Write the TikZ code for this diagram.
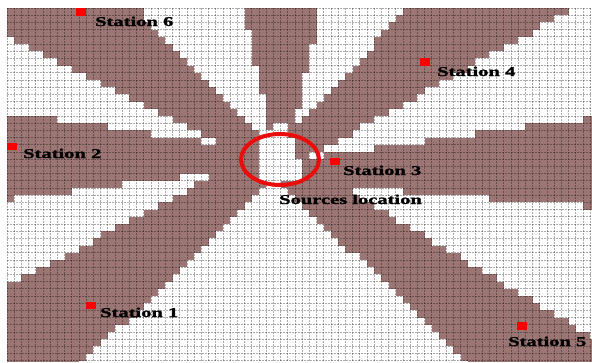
\documentclass[tikz,border=0pt]{standalone}
\usepackage{fontspec}
\setmainfont{Liberation Serif}
\newfontfamily\lblfont[FakeBold=1.2]{Liberation Serif Bold}
\usepackage{graphicx}
\definecolor{cellbrown}{RGB}{156,118,116}
\definecolor{mkred}{RGB}{250,0,0}
\definecolor{ringred}{RGB}{235,12,12}
\def\gx{7}\def\gy{8}\def\cw{7.2}\def\ch{7.2}
% white wedge with one lower bound y>=aL+bL*x and one upper bound y<=aU+bU*x
\newcommand\wedgeLU[4]{%
  \foreach \c in {0,...,81}{%
    \pgfmathsetmacro\xc{\gx+(\c+0.5)*\cw}%
    \pgfmathsetmacro\lo{max(#1+(#2)*\xc,\gy)}%
    \pgfmathsetmacro\hi{min(#3+(#4)*\xc,400)}%
    \pgfmathtruncatemacro\ra{ceil((\lo-\gy)/\ch-0.5)}%
    \pgfmathtruncatemacro\rb{floor((\hi-\gy)/\ch-0.5)}%
    \ifnum\rb<\ra\else
      \fill[white] (\gx+\c*\cw,\gy+\ra*\ch) rectangle (\gx+\c*\cw+\cw,\gy+\rb*\ch+\ch);
    \fi
  }}
% white wedge with two lower bounds
\newcommand\wedgeLL[4]{%
  \foreach \c in {0,...,81}{%
    \pgfmathsetmacro\xc{\gx+(\c+0.5)*\cw}%
    \pgfmathsetmacro\lo{max(max(#1+(#2)*\xc,#3+(#4)*\xc),\gy)}%
    \pgfmathtruncatemacro\ra{ceil((\lo-\gy)/\ch-0.5)}%
    \pgfmathtruncatemacro\rb{60}%
    \ifnum\rb<\ra\else
      \fill[white] (\gx+\c*\cw,\gy+\ra*\ch) rectangle (\gx+\c*\cw+\cw,\gy+\rb*\ch+\ch);
    \fi
  }}
% white block of cells: columns c1..c2, rows r1..r2
\newcommand\cellblock[4]{\fill[white] (\gx+#1*\cw,\gy+#3*\ch) rectangle (\gx+#2*\cw+\cw,\gy+#4*\ch+\ch);}
\tikzset{
  gridline/.style={black, opacity=0.33, line width=0.75pt, dash pattern=on 2pt off 1pt},
  marker/.style={fill=mkred, inner sep=0pt, minimum width=10pt, minimum height=7.5pt},
  lbl/.style={anchor=base west, inner sep=0pt, font=\lblfont\fontsize{13.5}{14}\selectfont},
}
\newcommand\wide[1]{\scalebox{1.52}[1]{#1}}
\begin{document}
\begin{tikzpicture}[x=1pt,y=-1pt]
\useasboundingbox (0,0) rectangle (592,362);
\fill[white] (0,0) rectangle (592,362);
\begin{scope}
\clip (\gx,\gy) rectangle (592,362);
\fill[cellbrown] (\gx,\gy) rectangle (592,362);
% W1 top middle
\wedgeLU{-1095.2}{4.54}{-135.85}{1.05}
% W2 left
\wedgeLU{33.5}{0.5}{110.94}{0.152}
% W3 left lower
\wedgeLU{200.94}{-0.134}{290.77}{-0.539}
% W4 bottom middle
\wedgeLL{441.1}{-0.953}{-87.15}{0.964}
% W5 right middle
\wedgeLU{159.6}{0.08}{-18}{0.6}
% W6 top right
\wedgeLU{330}{-0.56}{200.26}{-0.139}
% W7 top middle right
\wedgeLU{1524.8}{-4.74}{444.56}{-1.07}
% source area (inside the ring)
\cellblock{35}{39}{18}{23}
\cellblock{37}{38}{16}{17}
\cellblock{40}{40}{21}{23}
% grid
\foreach \i in {0,...,82} \draw[gridline] (\gx+\i*\cw,\gy) -- (\gx+\i*\cw,362);
\foreach \j in {0,...,50} \draw[gridline] (\gx,\gy+\j*\ch) -- (592,\gy+\j*\ch);
\end{scope}
% ring
\draw[ringred, line width=4pt] (280,159.5) ellipse [x radius=39, y radius=25.5];
% stations
\node[marker] (m6) at (80.5,12) {};
\node[marker] (m2) at (12,146.5) {};
\node[marker] (m4) at (425,62) {};
\node[marker] (m3) at (335,161.5) {};
\node[marker] (m1) at (91,305.5) {};
\node[marker] (m5) at (522,326) {};
\node[lbl] (l6) at (95,26) {\wide{Station 6}};
\node[lbl] (l2) at (23,158) {\wide{Station 2}};
\node[lbl] (l4) at (437,76) {\wide{Station 4}};
\node[lbl] (l3) at (343,175) {\wide{Station 3}};
\node[lbl] (l1) at (100,317) {\wide{Station 1}};
\node[lbl] (l5) at (508,346) {\wide{Station 5}};
\node[lbl] (src) at (279,204) {\wide{Sources location}};
\end{tikzpicture}
\end{document}
